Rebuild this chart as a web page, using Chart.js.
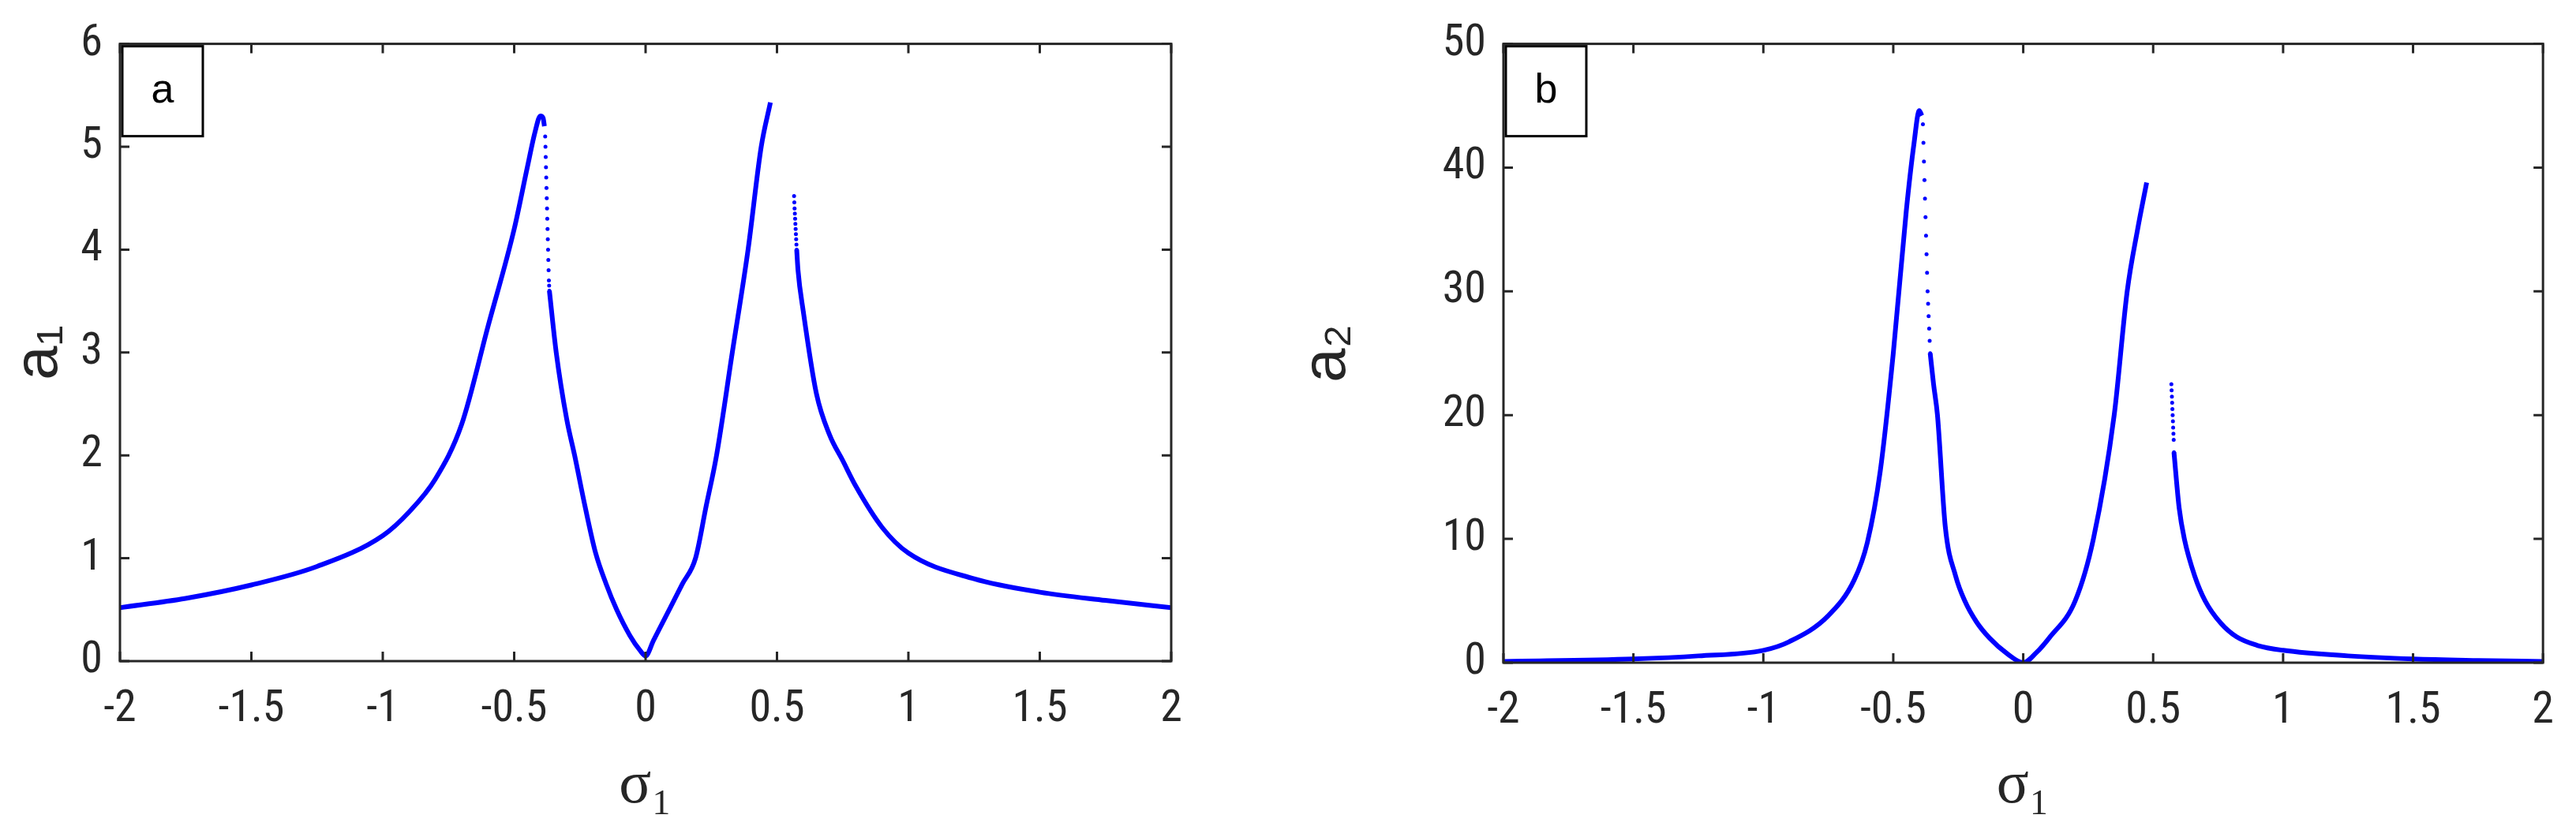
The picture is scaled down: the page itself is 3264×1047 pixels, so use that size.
<!DOCTYPE html>
<html>
<head>
<meta charset="utf-8">
<script src="https://cdn.jsdelivr.net/npm/chart.js@4/dist/chart.umd.min.js"></script>
<style>
  body { margin: 0; background: #fff; }
  .wrap { position: absolute; top: 0; width: 1632px; height: 1047px; }
</style>
</head>
<body>
<div class="wrap" style="left:0"><canvas id="chartA"></canvas></div>
<div class="wrap" style="left:1632px"><canvas id="chartB"></canvas></div>
<script>
// panel a : a1 vs sigma1
const a1MainX = [-2, -1.75, -1.5, -1.25, -1, -0.9, -0.8, -0.7, -0.6, -0.5, -0.45, -0.42, -0.4, -0.39, -0.385];
const a1MainY = [0.52, 0.61, 0.74, 0.92, 1.22, 1.45, 1.77, 2.3, 3.25, 4.2, 4.8, 5.15, 5.3, 5.28, 5.2];
const a1DotX  = [-0.382, -0.381, -0.38, -0.379, -0.378, -0.377, -0.376, -0.375, -0.374, -0.373, -0.372, -0.371, -0.37, -0.369, -0.368, -0.367, -0.366];
const a1DotY  = [5.1, 5.0, 4.9, 4.8, 4.7, 4.6, 4.5, 4.4, 4.3, 4.2, 4.1, 4.0, 3.9, 3.8, 3.7, 3.65, 3.6];
const a1MidX  = [-0.366, -0.34, -0.3, -0.27, -0.23, -0.19, -0.15, -0.11, -0.06, -0.02, 0, 0.03, 0.09, 0.14, 0.19, 0.23, 0.27, 0.33, 0.39, 0.44, 0.475];
const a1MidY  = [3.6, 3.0, 2.35, 2.0, 1.5, 1.05, 0.75, 0.5, 0.25, 0.1, 0.05, 0.2, 0.5, 0.75, 1.0, 1.5, 2.0, 3.0, 4.0, 5.0, 5.43];
const a1RightDotX = [0.565, 0.566, 0.567, 0.568, 0.569, 0.57, 0.571, 0.572, 0.573, 0.574, 0.575];
const a1RightDotY = [4.52, 4.46, 4.4, 4.35, 4.3, 4.25, 4.2, 4.15, 4.1, 4.05, 4.0];
const a1RightX = [0.575, 0.58, 0.6, 0.65, 0.7, 0.75, 0.8, 0.9, 1.0, 1.25, 1.5, 1.75, 2];
const a1RightY = [4.0, 3.8, 3.4, 2.6, 2.2, 1.95, 1.7, 1.3, 1.05, 0.8, 0.67, 0.59, 0.52];

// panel b : a2 vs sigma1
const a2MainX = [-2, -1.5, -1.25, -1, -0.9, -0.75, -0.65, -0.6, -0.55, -0.5, -0.45, -0.42, -0.4, -0.39];
const a2MainY = [0.1, 0.3, 0.55, 1.0, 1.7, 3.8, 6.7, 9.7, 15.5, 25, 36.5, 42, 44.6, 44.2];
const a2DotX  = [-0.386, -0.384, -0.382, -0.38, -0.378, -0.376, -0.374, -0.372, -0.37, -0.368, -0.366, -0.364, -0.362, -0.36, -0.358];
const a2DotY  = [43.5, 42, 40.5, 39, 37.5, 36, 34.5, 33, 31.5, 30, 29, 28, 27, 26, 25];
const a2MidX  = [-0.358, -0.345, -0.33, -0.3, -0.26, -0.225, -0.18, -0.13, -0.06, 0, 0.05, 0.1, 0.2, 0.27, 0.35, 0.4, 0.44, 0.475];
const a2MidY  = [25, 22.5, 20, 11, 7, 5, 3.3, 2, 0.7, 0, 0.8, 2, 5, 10, 20, 30, 35, 38.8];
const a2RightDotX = [0.57, 0.571, 0.572, 0.573, 0.574, 0.575, 0.576, 0.577, 0.578, 0.579, 0.58];
const a2RightDotY = [22.5, 22, 21.5, 21, 20.5, 20, 19.5, 19, 18.5, 18, 17];
const a2RightX = [0.58, 0.6, 0.62, 0.66, 0.7, 0.76, 0.82, 0.9, 1.0, 1.25, 1.5, 1.75, 2];
const a2RightY = [17, 12.5, 10, 7, 5, 3.2, 2.1, 1.4, 1.0, 0.55, 0.3, 0.18, 0.1];

const xTicks = [-2, -1.5, -1, -0.5, 0, 0.5, 1, 1.5, 2];
const a1Ticks = [0, 1, 2, 3, 4, 5, 6];
const a2Ticks = [0, 10, 20, 30, 40, 50];

const BLUE = '#0000ff';
const tickFont = { family: '"Liberation Sans Narrow", "Roboto Condensed", "Liberation Sans", Arial', size: 56 };

function pts(xs, ys) { return xs.map((x, i) => ({ x: x, y: ys[i] })); }

function line(xs, ys) {
  return { data: pts(xs, ys), showLine: true, borderColor: BLUE, borderWidth: 6, pointRadius: 0, cubicInterpolationMode: 'monotone' };
}
function dots(xs, ys) {
  return { data: pts(xs, ys), showLine: false, backgroundColor: BLUE, borderWidth: 0, pointRadius: 2.5 };
}

// frame, inside ticks and the little a/b box
const framePlugin = {
  id: 'frame',
  afterDraw(chart, args, opts) {
    const c = chart.ctx, a = chart.chartArea;
    c.save();
    c.strokeStyle = '#262626';
    c.lineWidth = 3;
    c.strokeRect(a.left, a.top, a.right - a.left, a.bottom - a.top);
    c.beginPath();
    chart.scales.x.ticks.forEach(t => {
      const px = chart.scales.x.getPixelForValue(t.value);
      c.moveTo(px, a.bottom); c.lineTo(px, a.bottom - 12);
      c.moveTo(px, a.top); c.lineTo(px, a.top + 12);
    });
    chart.scales.y.ticks.forEach(t => {
      const py = chart.scales.y.getPixelForValue(t.value);
      c.moveTo(a.left, py); c.lineTo(a.left + 12, py);
      c.moveTo(a.right, py); c.lineTo(a.right - 12, py);
    });
    c.stroke();
    // label box
    c.fillStyle = '#fff';
    c.fillRect(a.left + 3, a.top + 3, 102, 114);
    c.lineWidth = 3;
    c.strokeStyle = '#000';
    c.strokeRect(a.left + 3, a.top + 3, 102, 114);
    c.fillStyle = '#000';
    c.font = '52px "Liberation Sans Narrow", "Liberation Sans", Arial';
    c.textAlign = 'center';
    c.textBaseline = 'middle';
    c.fillText(opts.label, a.left + 54, a.top + 60);
    c.restore();
  }
};

function makeChart(id, datasets, yMax, yTicks, yTitle, label, pad, yWidth, xHeight) {
  return new Chart(document.getElementById(id), {
    type: 'scatter',
    data: { datasets: datasets },
    options: {
      responsive: true,
      maintainAspectRatio: false,
      animation: false,
      layout: { padding: pad },
      plugins: { legend: { display: false }, tooltip: { enabled: false }, frame: { label: label } },
      scales: {
        x: {
          type: 'linear', min: -2, max: 2,
          afterBuildTicks: s => { s.ticks = xTicks.map(v => ({ value: v })); },
          afterFit: s => { s.height = xHeight; },
          grid: { display: false, drawTicks: false },
          border: { display: false },
          ticks: { font: tickFont, color: '#262626', padding: 28, maxRotation: 0, callback: v => String(v) },
          title: { display: true, text: 'σ₁', font: { family: '"Liberation Serif", "Times New Roman"', size: 76 }, color: '#262626', padding: { top: 18 } }
        },
        y: {
          type: 'linear', min: 0, max: yMax,
          afterBuildTicks: s => { s.ticks = yTicks.map(v => ({ value: v })); },
          afterFit: s => { s.width = yWidth; },
          grid: { display: false, drawTicks: false },
          border: { display: false },
          ticks: { font: tickFont, color: '#262626', padding: 22, callback: v => String(v) },
          title: { display: true, text: yTitle, font: { family: '"Liberation Sans", Arial', size: 78 }, color: '#262626', padding: { bottom: 0 } }
        }
      }
    },
    plugins: [framePlugin]
  });
}

makeChart('chartA',
  [line(a1MainX, a1MainY), dots(a1DotX, a1DotY), line(a1MidX, a1MidY), dots(a1RightDotX, a1RightDotY), line(a1RightX, a1RightY)],
  6, a1Ticks, 'a₁', 'a', { left: 0, right: 148, top: 35, bottom: 0 }, 152, 209);

makeChart('chartB',
  [line(a2MainX, a2MainY), dots(a2DotX, a2DotY), line(a2MidX, a2MidY), dots(a2RightDotX, a2RightDotY), line(a2RightX, a2RightY)],
  50, a2Ticks, 'a₂', 'b', { left: 0, right: 25, top: 38, bottom: 0 }, 273, 207);
</script>
</body>
</html>
